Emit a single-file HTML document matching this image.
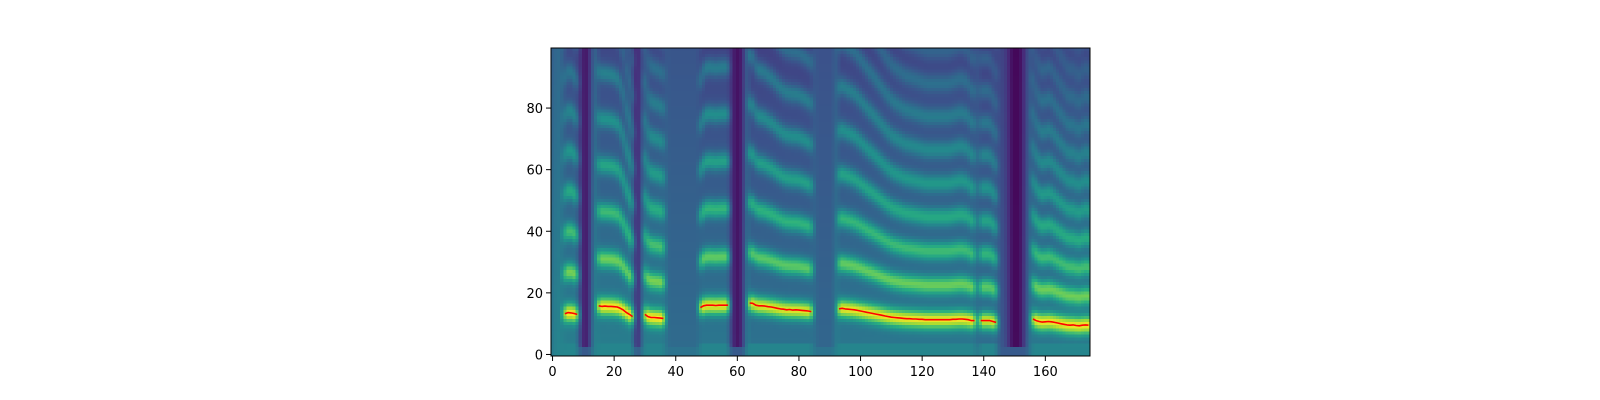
<!DOCTYPE html>
<html><head><meta charset="utf-8">
<style>
html,body{margin:0;padding:0;background:#fff;}
#wrap{position:relative;width:1600px;height:400px;overflow:hidden;}
#spec{position:absolute;left:551px;top:48px;width:539px;height:308px;image-rendering:pixelated;}
#ax{position:absolute;left:0;top:0;}
text{font-family:"DejaVu Sans","Liberation Sans",sans-serif;font-size:13px;fill:#000;}
</style></head>
<body>
<div id="wrap">
<canvas id="spec" width="175" height="100"></canvas>
<svg id="ax" width="1600" height="400"></svg>
</div>
<script>
// ---- data (per frame) ----
const pitch = [0,0,0,0,13.2,13.6,13.5,13.3,13.0,0,0,0,0,0,0,
15.8,15.6,15.7,15.6,15.6,15.5,15.4,15.0,14.4,13.6,13.0,12.3,0,0,0,
13.0,12.3,12.0,12.0,11.9,11.8,11.7,0,0,0,0,0,0,0,0,0,0,0,
15.2,15.8,16.0,16.0,16.0,15.9,16.0,16.0,16.0,16.0,0,0,0,0,0,0,
16.7,16.6,16.0,15.8,15.8,15.7,15.5,15.4,15.2,15.0,14.8,14.7,14.5,14.6,14.4,14.5,14.4,14.3,14.2,14.1,13.9,
0,0,0,0,0,0,0,0,
14.8,15.0,14.8,14.7,14.6,14.5,14.3,14.1,13.9,13.7,13.5,13.3,13.1,12.9,12.7,12.5,12.3,12.1,12.0,11.9,11.8,11.7,11.6,11.6,11.5,11.5,11.4,11.4,11.3,11.3,11.3,11.3,11.3,11.3,11.3,11.3,11.3,11.4,11.4,11.5,11.5,11.4,11.3,11.0,11.0,
0,11.0,11.0,11.0,11.0,10.7,10.4,
0,0,0,0,0,0,0,0,0,0,0,
11.5,11.0,10.7,10.5,10.6,10.7,10.6,10.4,10.2,10.0,9.8,9.6,9.5,9.6,9.4,9.3,9.5,9.6,9.5];
const level = [0.4,0.45,0.45,0.45,0.45,0.45,0.45,0.45,0.45,0.2,0.08,0.08,0.15,0.4,0.45,
0.45,0.45,0.45,0.45,0.45,0.45,0.45,0.45,0.45,0.45,0.45,0.45,0.15,0.1,0.4,
0.45,0.45,0.45,0.45,0.45,0.45,0.45,0.38,0.35,0.35,0.35,0.35,0.35,0.35,0.35,0.35,0.35,0.35,
0.42,0.42,0.42,0.42,0.42,0.42,0.42,0.42,0.42,0.42,0.2,0.08,0.05,0.08,0.2,0.45,
0.4,0.4,0.4,0.4,0.4,0.4,0.4,0.4,0.4,0.4,0.4,0.4,0.4,0.4,0.4,0.4,0.4,0.4,0.4,0.4,0.4,
0.38,0.33,0.33,0.33,0.33,0.33,0.33,0.45,
0.42,0.42,0.42,0.42,0.42,0.42,0.42,0.42,0.42,0.42,0.42,0.42,0.42,0.42,0.42,0.42,0.42,0.42,0.42,0.42,0.42,0.42,0.42,0.42,0.42,0.42,0.42,0.42,0.42,0.42,0.42,0.42,0.42,0.42,0.42,0.42,0.42,0.42,0.42,0.42,0.42,0.42,0.42,0.42,0.42,
0.35,0.38,0.38,0.38,0.38,0.38,0.38,
0.3,0.25,0.25,0.15,0.05,0.02,0.02,0.05,0.15,0.3,0.4,
0.42,0.42,0.42,0.42,0.42,0.42,0.42,0.42,0.42,0.42,0.42,0.42,0.42,0.42,0.42,0.42,0.42,0.42,0.42];
const xTicks = [0,20,40,60,80,100,120,140,160];
const yTicks = [0,20,40,60,80];
const NF = 175, NB = 100;

// ---- geometry ----
const L=551,T=48,W=539,H=308;
const xs = f => L + (f+0.5)*W/NF;
const ys = b => T + H - (b+0.5)*H/NB;

// ---- build grid ----
const grid=[];
for(let f=0;f<NF;f++){
  const col=[]; const p=pitch[f]||0; const lv=level[f];
  for(let b=0;b<NB;b++){
    let v;
    if(p>0){
      v = lv*(1-0.5*b/NB)*0.95;
      if(b<4) v=Math.max(v,0.45);
      for(let k=1;k*p<130;k++){
        const c=k*p*(1-0.0003*k*p);
        const A = k===1?0.6:0.42*Math.exp(-0.18*(k-2));
        v += A*Math.exp(-Math.pow((b-c)/3.0,2));
      }
    } else {
      v = lv*(1-0.25*b/NB);
      if(b<3) v=Math.max(v,0.28+0.1*(lv>0.3));
    }
    col.push(v);
  }
  grid.push(col);
}
const sm=grid.map((c,f)=>c.map((v,b)=>{
  const a=grid[Math.max(0,f-1)][b], d=grid[Math.min(NF-1,f+1)][b];
  return 0.25*a+0.5*v+0.25*d;
}));
const stops=[[0,[68,1,84]],[0.125,[71,45,123]],[0.25,[59,82,139]],[0.375,[44,114,142]],[0.5,[33,145,140]],[0.625,[40,174,128]],[0.75,[94,201,98]],[0.875,[173,220,48]],[1,[253,231,37]]];
function vir(t){t=Math.max(0,Math.min(1,t));for(let i=1;i<stops.length;i++){if(t<=stops[i][0]){const a=stops[i-1],b=stops[i];const u=(t-a[0])/(b[0]-a[0]);return a[1].map((x,j)=>Math.round(x+(b[1][j]-x)*u));}}return stops[stops.length-1][1];}
const cv=document.getElementById('spec');const ctx=cv.getContext('2d');
const img=ctx.createImageData(NF,NB);
for(let f=0;f<NF;f++)for(let b=0;b<NB;b++){
  const c=vir(sm[f][b]);const i=((NB-1-b)*NF+f)*4;
  img.data[i]=c[0];img.data[i+1]=c[1];img.data[i+2]=c[2];img.data[i+3]=255;
}
ctx.putImageData(img,0,0);

// ---- axes & pitch line ----
const svg=document.getElementById('ax');const NS='http://www.w3.org/2000/svg';
function mk(t,a){const e=document.createElementNS(NS,t);for(const k in a)e.setAttribute(k,a[k]);svg.appendChild(e);return e;}
let segs=[],cur=[];
for(let f=0;f<NF;f++){if(pitch[f]>0)cur.push(xs(f).toFixed(1)+','+ys(pitch[f]).toFixed(1));else{if(cur.length)segs.push(cur);cur=[];}}
if(cur.length)segs.push(cur);
segs.forEach(s=>{
  const pl=mk('polyline',{points:s.join(' '),fill:'none',stroke:'#ff0000','stroke-width':1.6,'stroke-linejoin':'round'});
  
  
});
const fr=mk('rect',{x:L,y:T,width:W,height:H,fill:'none',stroke:'#000','stroke-width':1});


xTicks.forEach(t=>{
  const x=xs(t);
  const ln=mk('line',{x1:x,y1:T+H,x2:x,y2:T+H+5,stroke:'#000','stroke-width':1});
  
  
  const tx=mk('text',{x:x,y:T+H+20,'text-anchor':'middle'});tx.textContent=t;
  
  
});
yTicks.forEach(t=>{
  const y=ys(t);
  const ln=mk('line',{x1:L-5,y1:y,x2:L,y2:y,stroke:'#000','stroke-width':1});
  
  
  const tx=mk('text',{x:L-8,y:y+5,'text-anchor':'end'});tx.textContent=t;
  
  
});
</script>
</body></html>
